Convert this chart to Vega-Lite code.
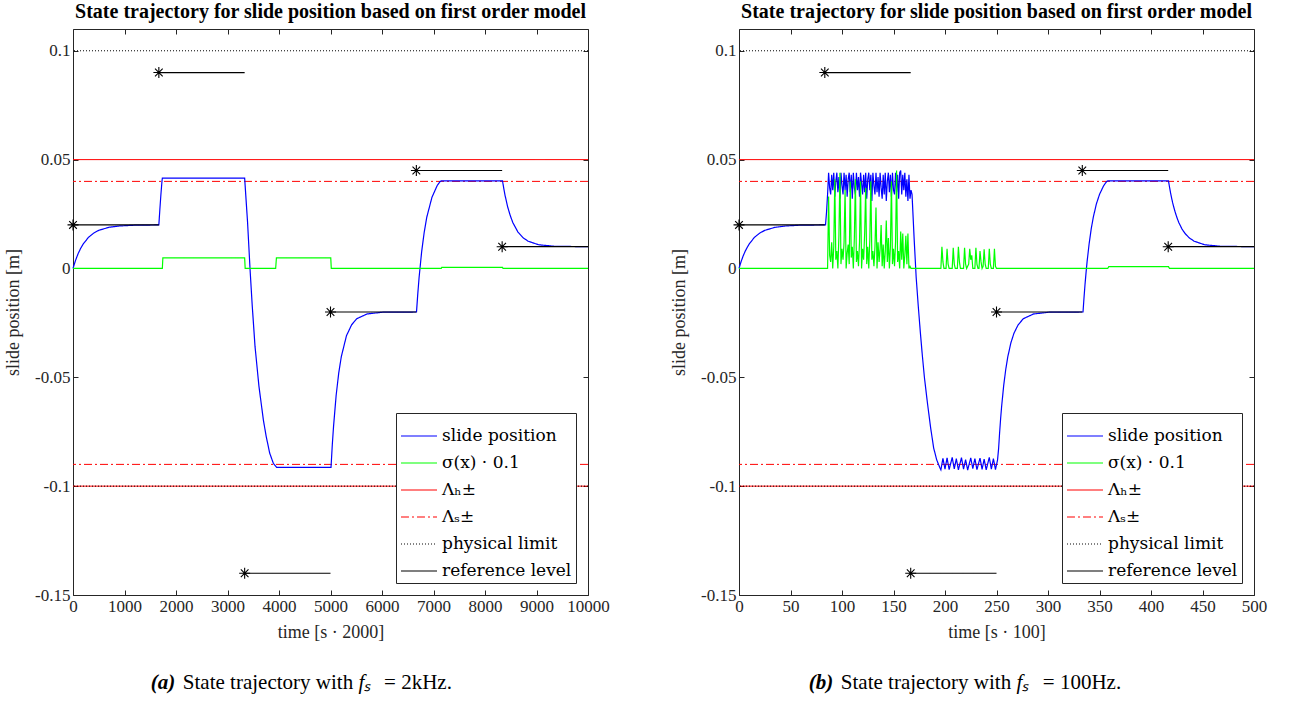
{
 "$schema": "https://vega.github.io/schema/vega-lite/v6.json",
 "padding": {"left": 4, "top": 1, "right": 5, "bottom": 5},
 "background": "white",
 "config": {
  "font": "Liberation Serif",
  "view": {"stroke": "#262626", "strokeWidth": 1},
  "axis": {"grid": false, "domain": false, "tickSize": -5, "tickColor": "#262626", "labelFont": "Liberation Serif", "labelFontSize": 17, "labelColor": "#262626", "titleFont": "Liberation Serif", "titleFontSize": 18, "titleFontWeight": "normal", "titleColor": "#262626", "labelPadding": 8, "labelFlush": false, "labelOverlap": false},
  "axisLeft": {"titlePadding": 12},
  "axisBottom": {"titlePadding": 9},
  "legend": {"orient": "bottom-right", "offset": 12, "title": null, "symbolType": "stroke", "symbolSize": 1300, "symbolStrokeWidth": 1.2, "labelFont": "DejaVu Serif", "labelFontSize": 17, "labelColor": "black", "strokeColor": "#262626", "fillColor": "white", "padding": 4, "rowPadding": 0, "labelOffset": 4, "cornerRadius": 0, "labelLimit": 300},
  "title": {"font": "Liberation Serif", "color": "black", "fontSize": 20, "fontWeight": "bold"}
 },
 "datasets": {
  "limits": [
   {"s": "Λₕ±", "y": 0.05}, {"s": "Λₕ±", "y": -0.1},
   {"s": "Λₛ±", "y": 0.04}, {"s": "Λₛ±", "y": -0.09},
   {"s": "physical limit", "y": 0.1}, {"s": "physical limit", "y": -0.1}
  ],
  "refA": [
   {"x0": 0, "x1": 1667, "y": 0.02, "s": "reference level"},
   {"x0": 1667, "x1": 3333, "y": 0.09, "s": "reference level"},
   {"x0": 3333, "x1": 5000, "y": -0.14, "s": "reference level"},
   {"x0": 5000, "x1": 6667, "y": -0.02, "s": "reference level"},
   {"x0": 6667, "x1": 8333, "y": 0.045, "s": "reference level"},
   {"x0": 8333, "x1": 10000, "y": 0.01, "s": "reference level"}
  ],
  "refB": [
   {"x0": 0, "x1": 83.3, "y": 0.02, "s": "reference level"},
   {"x0": 83.3, "x1": 166.7, "y": 0.09, "s": "reference level"},
   {"x0": 166.7, "x1": 250, "y": -0.14, "s": "reference level"},
   {"x0": 250, "x1": 333.3, "y": -0.02, "s": "reference level"},
   {"x0": 333.3, "x1": 416.7, "y": 0.045, "s": "reference level"},
   {"x0": 416.7, "x1": 500, "y": 0.01, "s": "reference level"}
  ],
  "trajA": [
   {"t": 0, "y": 0, "s": "slide position"}, {"t": 50, "y": 0.00376, "s": "slide position"}, {"t": 100, "y": 0.00682, "s": "slide position"}, {"t": 150, "y": 0.0093, "s": "slide position"}, {"t": 200, "y": 0.0113, "s": "slide position"}, {"t": 300, "y": 0.01427, "s": "slide position"}, {"t": 400, "y": 0.01622, "s": "slide position"}, {"t": 500, "y": 0.01751, "s": "slide position"}, {"t": 700, "y": 0.01892, "s": "slide position"}, {"t": 900, "y": 0.01953, "s": "slide position"}, {"t": 1200, "y": 0.01987, "s": "slide position"}, {"t": 1667, "y": 0.02, "s": "slide position"},
   {"t": 1687, "y": 0.0273, "s": "slide position"}, {"t": 1707, "y": 0.034, "s": "slide position"}, {"t": 1727, "y": 0.0399, "s": "slide position"}, {"t": 1735, "y": 0.0415, "s": "slide position"}, {"t": 3333, "y": 0.0415, "s": "slide position"},
   {"t": 3390, "y": 0.021, "s": "slide position"}, {"t": 3437, "y": 0, "s": "slide position"}, {"t": 3480, "y": -0.017, "s": "slide position"}, {"t": 3534, "y": -0.0357, "s": "slide position"}, {"t": 3610, "y": -0.054, "s": "slide position"}, {"t": 3696, "y": -0.0695, "s": "slide position"}, {"t": 3750, "y": -0.077, "s": "slide position"}, {"t": 3819, "y": -0.0848, "s": "slide position"}, {"t": 3890, "y": -0.0895, "s": "slide position"}, {"t": 3955, "y": -0.0914, "s": "slide position"}, {"t": 5010, "y": -0.0914, "s": "slide position"},
   {"t": 5035, "y": -0.081, "s": "slide position"}, {"t": 5060, "y": -0.0723, "s": "slide position"}, {"t": 5110, "y": -0.0582, "s": "slide position"}, {"t": 5160, "y": -0.048, "s": "slide position"}, {"t": 5210, "y": -0.0405, "s": "slide position"}, {"t": 5310, "y": -0.0309, "s": "slide position"}, {"t": 5410, "y": -0.0259, "s": "slide position"}, {"t": 5510, "y": -0.0231, "s": "slide position"}, {"t": 5710, "y": -0.0209, "s": "slide position"}, {"t": 6010, "y": -0.0201, "s": "slide position"}, {"t": 6670, "y": -0.02, "s": "slide position"},
   {"t": 6695, "y": -0.0116, "s": "slide position"}, {"t": 6720, "y": -0.0042, "s": "slide position"}, {"t": 6770, "y": 0.0077, "s": "slide position"}, {"t": 6820, "y": 0.0167, "s": "slide position"}, {"t": 6870, "y": 0.0236, "s": "slide position"}, {"t": 6970, "y": 0.0327, "s": "slide position"}, {"t": 7070, "y": 0.038, "s": "slide position"}, {"t": 7120, "y": 0.0397, "s": "slide position"}, {"t": 7150, "y": 0.0402, "s": "slide position"}, {"t": 8340, "y": 0.0402, "s": "slide position"},
   {"t": 8365, "y": 0.0367, "s": "slide position"}, {"t": 8390, "y": 0.0335, "s": "slide position"}, {"t": 8440, "y": 0.0283, "s": "slide position"}, {"t": 8490, "y": 0.0243, "s": "slide position"}, {"t": 8540, "y": 0.0211, "s": "slide position"}, {"t": 8640, "y": 0.0167, "s": "slide position"}, {"t": 8740, "y": 0.0141, "s": "slide position"}, {"t": 8840, "y": 0.0125, "s": "slide position"}, {"t": 9040, "y": 0.0109, "s": "slide position"}, {"t": 9340, "y": 0.0102, "s": "slide position"}, {"t": 10000, "y": 0.01, "s": "slide position"},
   {"t": 0, "y": 0, "s": "σ(x) · 0.1"}, {"t": 1735, "y": 0, "s": "σ(x) · 0.1"}, {"t": 1745, "y": 0.0049, "s": "σ(x) · 0.1"}, {"t": 3333, "y": 0.0049, "s": "σ(x) · 0.1"}, {"t": 3343, "y": 0, "s": "σ(x) · 0.1"}, {"t": 3935, "y": 0, "s": "σ(x) · 0.1"}, {"t": 3950, "y": 0.0049, "s": "σ(x) · 0.1"}, {"t": 5005, "y": 0.0049, "s": "σ(x) · 0.1"}, {"t": 5015, "y": 0, "s": "σ(x) · 0.1"}, {"t": 7150, "y": 0, "s": "σ(x) · 0.1"}, {"t": 7160, "y": 0.0005, "s": "σ(x) · 0.1"}, {"t": 8340, "y": 0.0005, "s": "σ(x) · 0.1"}, {"t": 8350, "y": 0, "s": "σ(x) · 0.1"}, {"t": 10000, "y": 0, "s": "σ(x) · 0.1"}
  ],
  "trajB": [
   {"t": 0, "y": 0, "s": "slide position"}, {"t": 2, "y": 0.0031, "s": "slide position"}, {"t": 4, "y": 0.0057, "s": "slide position"}, {"t": 6, "y": 0.0079, "s": "slide position"}, {"t": 8, "y": 0.0097, "s": "slide position"}, {"t": 10, "y": 0.0113, "s": "slide position"}, {"t": 15, "y": 0.0143, "s": "slide position"}, {"t": 20, "y": 0.0162, "s": "slide position"}, {"t": 25, "y": 0.0175, "s": "slide position"}, {"t": 35, "y": 0.0189, "s": "slide position"}, {"t": 45, "y": 0.0195, "s": "slide position"}, {"t": 60, "y": 0.0199, "s": "slide position"}, {"t": 84, "y": 0.02, "s": "slide position"}, {"t": 85, "y": 0.026, "s": "slide position"}, {"t": 86, "y": 0.034, "s": "slide position"},
   {"t": 87, "y": 0.044, "s": "slide position"}, {"t": 88, "y": 0.037, "s": "slide position"}, {"t": 89, "y": 0.034, "s": "slide position"}, {"t": 90, "y": 0.043, "s": "slide position"}, {"t": 91, "y": 0.036, "s": "slide position"}, {"t": 92, "y": 0.044, "s": "slide position"}, {"t": 93, "y": 0.033, "s": "slide position"}, {"t": 94, "y": 0.040, "s": "slide position"}, {"t": 95, "y": 0.044, "s": "slide position"}, {"t": 96, "y": 0.035, "s": "slide position"}, {"t": 97, "y": 0.042, "s": "slide position"}, {"t": 98, "y": 0.032, "s": "slide position"}, {"t": 99, "y": 0.044, "s": "slide position"}, {"t": 100, "y": 0.038, "s": "slide position"}, {"t": 101, "y": 0.034, "s": "slide position"}, {"t": 102, "y": 0.044, "s": "slide position"}, {"t": 103, "y": 0.036, "s": "slide position"}, {"t": 104, "y": 0.043, "s": "slide position"}, {"t": 105, "y": 0.033, "s": "slide position"}, {"t": 106, "y": 0.041, "s": "slide position"}, {"t": 107, "y": 0.044, "s": "slide position"}, {"t": 108, "y": 0.035, "s": "slide position"}, {"t": 109, "y": 0.043, "s": "slide position"}, {"t": 110, "y": 0.032, "s": "slide position"}, {"t": 111, "y": 0.044, "s": "slide position"}, {"t": 112, "y": 0.037, "s": "slide position"}, {"t": 113, "y": 0.034, "s": "slide position"}, {"t": 114, "y": 0.044, "s": "slide position"}, {"t": 115, "y": 0.036, "s": "slide position"}, {"t": 116, "y": 0.042, "s": "slide position"}, {"t": 117, "y": 0.033, "s": "slide position"}, {"t": 118, "y": 0.044, "s": "slide position"}, {"t": 119, "y": 0.039, "s": "slide position"}, {"t": 120, "y": 0.034, "s": "slide position"}, {"t": 121, "y": 0.043, "s": "slide position"}, {"t": 122, "y": 0.035, "s": "slide position"}, {"t": 123, "y": 0.044, "s": "slide position"}, {"t": 124, "y": 0.032, "s": "slide position"}, {"t": 125, "y": 0.041, "s": "slide position"}, {"t": 126, "y": 0.044, "s": "slide position"}, {"t": 127, "y": 0.036, "s": "slide position"}, {"t": 128, "y": 0.043, "s": "slide position"}, {"t": 129, "y": 0.031, "s": "slide position"}, {"t": 130, "y": 0.044, "s": "slide position"}, {"t": 131, "y": 0.038, "s": "slide position"}, {"t": 132, "y": 0.034, "s": "slide position"}, {"t": 133, "y": 0.044, "s": "slide position"}, {"t": 134, "y": 0.035, "s": "slide position"}, {"t": 135, "y": 0.042, "s": "slide position"}, {"t": 136, "y": 0.033, "s": "slide position"}, {"t": 137, "y": 0.044, "s": "slide position"}, {"t": 138, "y": 0.037, "s": "slide position"}, {"t": 139, "y": 0.032, "s": "slide position"}, {"t": 140, "y": 0.043, "s": "slide position"}, {"t": 141, "y": 0.034, "s": "slide position"}, {"t": 142, "y": 0.044, "s": "slide position"}, {"t": 143, "y": 0.031, "s": "slide position"}, {"t": 144, "y": 0.040, "s": "slide position"}, {"t": 145, "y": 0.044, "s": "slide position"}, {"t": 146, "y": 0.035, "s": "slide position"}, {"t": 147, "y": 0.043, "s": "slide position"}, {"t": 148, "y": 0.033, "s": "slide position"}, {"t": 149, "y": 0.044, "s": "slide position"}, {"t": 150, "y": 0.036, "s": "slide position"}, {"t": 151, "y": 0.034, "s": "slide position"}, {"t": 152, "y": 0.044, "s": "slide position"}, {"t": 153, "y": 0.035, "s": "slide position"}, {"t": 154, "y": 0.043, "s": "slide position"}, {"t": 155, "y": 0.032, "s": "slide position"}, {"t": 156, "y": 0.044, "s": "slide position"}, {"t": 157, "y": 0.045, "s": "slide position"}, {"t": 158, "y": 0.034, "s": "slide position"}, {"t": 159, "y": 0.043, "s": "slide position"}, {"t": 160, "y": 0.036, "s": "slide position"}, {"t": 161, "y": 0.044, "s": "slide position"}, {"t": 162, "y": 0.033, "s": "slide position"}, {"t": 163, "y": 0.041, "s": "slide position"}, {"t": 164, "y": 0.031, "s": "slide position"}, {"t": 165, "y": 0.043, "s": "slide position"}, {"t": 166, "y": 0.032, "s": "slide position"}, {"t": 167, "y": 0.036, "s": "slide position"},
   {"t": 168, "y": 0.034, "s": "slide position"}, {"t": 170, "y": 0.014, "s": "slide position"}, {"t": 172, "y": -0.004, "s": "slide position"}, {"t": 174, "y": -0.017, "s": "slide position"}, {"t": 176, "y": -0.029, "s": "slide position"}, {"t": 178, "y": -0.04, "s": "slide position"}, {"t": 180, "y": -0.05, "s": "slide position"}, {"t": 183, "y": -0.062, "s": "slide position"}, {"t": 186, "y": -0.073, "s": "slide position"}, {"t": 189, "y": -0.0825, "s": "slide position"}, {"t": 192, "y": -0.088, "s": "slide position"}, {"t": 195, "y": -0.0915, "s": "slide position"},
   {"t": 196, "y": -0.0925, "s": "slide position"}, {"t": 198, "y": -0.0872, "s": "slide position"}, {"t": 200, "y": -0.0922, "s": "slide position"}, {"t": 202, "y": -0.087, "s": "slide position"}, {"t": 204, "y": -0.0924, "s": "slide position"}, {"t": 207, "y": -0.0868, "s": "slide position"}, {"t": 209, "y": -0.0921, "s": "slide position"}, {"t": 211, "y": -0.0874, "s": "slide position"}, {"t": 213, "y": -0.0925, "s": "slide position"}, {"t": 216, "y": -0.0869, "s": "slide position"}, {"t": 218, "y": -0.0922, "s": "slide position"}, {"t": 220, "y": -0.0878, "s": "slide position"}, {"t": 222, "y": -0.0926, "s": "slide position"}, {"t": 225, "y": -0.087, "s": "slide position"}, {"t": 227, "y": -0.092, "s": "slide position"}, {"t": 229, "y": -0.0873, "s": "slide position"}, {"t": 231, "y": -0.0924, "s": "slide position"}, {"t": 234, "y": -0.0871, "s": "slide position"}, {"t": 236, "y": -0.0923, "s": "slide position"}, {"t": 238, "y": -0.0876, "s": "slide position"}, {"t": 240, "y": -0.0925, "s": "slide position"}, {"t": 243, "y": -0.0868, "s": "slide position"}, {"t": 245, "y": -0.0922, "s": "slide position"}, {"t": 247, "y": -0.0874, "s": "slide position"}, {"t": 249, "y": -0.0924, "s": "slide position"}, {"t": 251, "y": -0.088, "s": "slide position"},
   {"t": 252, "y": -0.083, "s": "slide position"}, {"t": 253, "y": -0.0756, "s": "slide position"}, {"t": 254, "y": -0.069, "s": "slide position"}, {"t": 255, "y": -0.0633, "s": "slide position"}, {"t": 257, "y": -0.0537, "s": "slide position"}, {"t": 259, "y": -0.0463, "s": "slide position"}, {"t": 261, "y": -0.0405, "s": "slide position"}, {"t": 264, "y": -0.0341, "s": "slide position"}, {"t": 267, "y": -0.0297, "s": "slide position"}, {"t": 271, "y": -0.0259, "s": "slide position"}, {"t": 276, "y": -0.0231, "s": "slide position"}, {"t": 286, "y": -0.0209, "s": "slide position"}, {"t": 301, "y": -0.0201, "s": "slide position"}, {"t": 334, "y": -0.02, "s": "slide position"},
   {"t": 335, "y": -0.0132, "s": "slide position"}, {"t": 336, "y": -0.007, "s": "slide position"}, {"t": 337, "y": -0.0016, "s": "slide position"}, {"t": 338, "y": 0.0033, "s": "slide position"}, {"t": 340, "y": 0.0116, "s": "slide position"}, {"t": 342, "y": 0.0183, "s": "slide position"}, {"t": 344, "y": 0.0236, "s": "slide position"}, {"t": 347, "y": 0.0297, "s": "slide position"}, {"t": 350, "y": 0.034, "s": "slide position"}, {"t": 354, "y": 0.038, "s": "slide position"}, {"t": 357, "y": 0.04, "s": "slide position"}, {"t": 358, "y": 0.0402, "s": "slide position"}, {"t": 417, "y": 0.0402, "s": "slide position"},
   {"t": 418, "y": 0.0373, "s": "slide position"}, {"t": 419, "y": 0.0347, "s": "slide position"}, {"t": 420, "y": 0.0324, "s": "slide position"}, {"t": 421, "y": 0.0302, "s": "slide position"}, {"t": 423, "y": 0.0266, "s": "slide position"}, {"t": 425, "y": 0.0236, "s": "slide position"}, {"t": 427, "y": 0.0211, "s": "slide position"}, {"t": 430, "y": 0.0182, "s": "slide position"}, {"t": 433, "y": 0.0161, "s": "slide position"}, {"t": 437, "y": 0.0141, "s": "slide position"}, {"t": 442, "y": 0.0125, "s": "slide position"}, {"t": 452, "y": 0.0109, "s": "slide position"}, {"t": 467, "y": 0.0102, "s": "slide position"}, {"t": 500, "y": 0.01, "s": "slide position"},
   {"t": 0, "y": 0, "s": "σ(x) · 0.1"}, {"t": 86, "y": 0, "s": "σ(x) · 0.1"}, {"t": 87, "y": 0.033, "s": "σ(x) · 0.1"}, {"t": 88, "y": 0.006, "s": "σ(x) · 0.1"}, {"t": 89, "y": 0.003, "s": "σ(x) · 0.1"}, {"t": 90, "y": 0.012, "s": "σ(x) · 0.1"}, {"t": 91, "y": 0, "s": "σ(x) · 0.1"}, {"t": 92, "y": 0.01, "s": "σ(x) · 0.1"}, {"t": 93, "y": 0.041, "s": "σ(x) · 0.1"}, {"t": 94, "y": 0.004, "s": "σ(x) · 0.1"}, {"t": 95, "y": 0.008, "s": "σ(x) · 0.1"}, {"t": 96, "y": 0, "s": "σ(x) · 0.1"}, {"t": 97, "y": 0.015, "s": "σ(x) · 0.1"}, {"t": 98, "y": 0.044, "s": "σ(x) · 0.1"}, {"t": 99, "y": 0.002, "s": "σ(x) · 0.1"}, {"t": 100, "y": 0.009, "s": "σ(x) · 0.1"}, {"t": 101, "y": 0.004, "s": "σ(x) · 0.1"}, {"t": 102, "y": 0.012, "s": "σ(x) · 0.1"}, {"t": 103, "y": 0.036, "s": "σ(x) · 0.1"}, {"t": 104, "y": 0, "s": "σ(x) · 0.1"}, {"t": 105, "y": 0.007, "s": "σ(x) · 0.1"}, {"t": 106, "y": 0.011, "s": "σ(x) · 0.1"}, {"t": 107, "y": 0.002, "s": "σ(x) · 0.1"}, {"t": 108, "y": 0.04, "s": "σ(x) · 0.1"}, {"t": 109, "y": 0.005, "s": "σ(x) · 0.1"}, {"t": 110, "y": 0.01, "s": "σ(x) · 0.1"}, {"t": 111, "y": 0, "s": "σ(x) · 0.1"}, {"t": 112, "y": 0.014, "s": "σ(x) · 0.1"}, {"t": 113, "y": 0.041, "s": "σ(x) · 0.1"}, {"t": 114, "y": 0.003, "s": "σ(x) · 0.1"}, {"t": 115, "y": 0.008, "s": "σ(x) · 0.1"}, {"t": 116, "y": 0.001, "s": "σ(x) · 0.1"}, {"t": 117, "y": 0.012, "s": "σ(x) · 0.1"}, {"t": 118, "y": 0.04, "s": "σ(x) · 0.1"}, {"t": 119, "y": 0, "s": "σ(x) · 0.1"}, {"t": 120, "y": 0.009, "s": "σ(x) · 0.1"}, {"t": 121, "y": 0.004, "s": "σ(x) · 0.1"}, {"t": 122, "y": 0.016, "s": "σ(x) · 0.1"}, {"t": 123, "y": 0.037, "s": "σ(x) · 0.1"}, {"t": 124, "y": 0.002, "s": "σ(x) · 0.1"}, {"t": 125, "y": 0.01, "s": "σ(x) · 0.1"}, {"t": 126, "y": 0, "s": "σ(x) · 0.1"}, {"t": 127, "y": 0.013, "s": "σ(x) · 0.1"}, {"t": 128, "y": 0.04, "s": "σ(x) · 0.1"}, {"t": 129, "y": 0.004, "s": "σ(x) · 0.1"}, {"t": 130, "y": 0.008, "s": "σ(x) · 0.1"}, {"t": 131, "y": 0.001, "s": "σ(x) · 0.1"}, {"t": 132, "y": 0.01, "s": "σ(x) · 0.1"}, {"t": 133, "y": 0.028, "s": "σ(x) · 0.1"}, {"t": 134, "y": 0, "s": "σ(x) · 0.1"}, {"t": 135, "y": 0.012, "s": "σ(x) · 0.1"}, {"t": 136, "y": 0.003, "s": "σ(x) · 0.1"}, {"t": 137, "y": 0.009, "s": "σ(x) · 0.1"}, {"t": 138, "y": 0.02, "s": "σ(x) · 0.1"}, {"t": 139, "y": 0.001, "s": "σ(x) · 0.1"}, {"t": 140, "y": 0.011, "s": "σ(x) · 0.1"}, {"t": 141, "y": 0, "s": "σ(x) · 0.1"}, {"t": 142, "y": 0.008, "s": "σ(x) · 0.1"}, {"t": 143, "y": 0.022, "s": "σ(x) · 0.1"}, {"t": 144, "y": 0.003, "s": "σ(x) · 0.1"}, {"t": 145, "y": 0.014, "s": "σ(x) · 0.1"}, {"t": 146, "y": 0, "s": "σ(x) · 0.1"}, {"t": 147, "y": 0.01, "s": "σ(x) · 0.1"}, {"t": 148, "y": 0.04, "s": "σ(x) · 0.1"}, {"t": 149, "y": 0.002, "s": "σ(x) · 0.1"}, {"t": 150, "y": 0.009, "s": "σ(x) · 0.1"}, {"t": 151, "y": 0.001, "s": "σ(x) · 0.1"}, {"t": 152, "y": 0.012, "s": "σ(x) · 0.1"}, {"t": 153, "y": 0.045, "s": "σ(x) · 0.1"}, {"t": 154, "y": 0.003, "s": "σ(x) · 0.1"}, {"t": 155, "y": 0.008, "s": "σ(x) · 0.1"}, {"t": 156, "y": 0, "s": "σ(x) · 0.1"}, {"t": 157, "y": 0.017, "s": "σ(x) · 0.1"}, {"t": 158, "y": 0.004, "s": "σ(x) · 0.1"}, {"t": 159, "y": 0.016, "s": "σ(x) · 0.1"}, {"t": 160, "y": 0, "s": "σ(x) · 0.1"}, {"t": 161, "y": 0.006, "s": "σ(x) · 0.1"}, {"t": 162, "y": 0.015, "s": "σ(x) · 0.1"}, {"t": 163, "y": 0.002, "s": "σ(x) · 0.1"}, {"t": 164, "y": 0.016, "s": "σ(x) · 0.1"}, {"t": 165, "y": 0, "s": "σ(x) · 0.1"}, {"t": 166, "y": 0.001, "s": "σ(x) · 0.1"}, {"t": 167, "y": 0, "s": "σ(x) · 0.1"},
   {"t": 196, "y": 0, "s": "σ(x) · 0.1"}, {"t": 197, "y": 0.01, "s": "σ(x) · 0.1"}, {"t": 198, "y": 0.003, "s": "σ(x) · 0.1"}, {"t": 199, "y": 0, "s": "σ(x) · 0.1"}, {"t": 201, "y": 0, "s": "σ(x) · 0.1"}, {"t": 202, "y": 0.009, "s": "σ(x) · 0.1"}, {"t": 203, "y": 0.002, "s": "σ(x) · 0.1"}, {"t": 204, "y": 0, "s": "σ(x) · 0.1"}, {"t": 207, "y": 0, "s": "σ(x) · 0.1"}, {"t": 208, "y": 0.0095, "s": "σ(x) · 0.1"}, {"t": 209, "y": 0.002, "s": "σ(x) · 0.1"}, {"t": 210, "y": 0, "s": "σ(x) · 0.1"}, {"t": 212, "y": 0, "s": "σ(x) · 0.1"}, {"t": 213, "y": 0.01, "s": "σ(x) · 0.1"}, {"t": 214, "y": 0.003, "s": "σ(x) · 0.1"}, {"t": 215, "y": 0, "s": "σ(x) · 0.1"}, {"t": 218, "y": 0, "s": "σ(x) · 0.1"}, {"t": 219, "y": 0.0095, "s": "σ(x) · 0.1"}, {"t": 220, "y": 0.002, "s": "σ(x) · 0.1"}, {"t": 221, "y": 0, "s": "σ(x) · 0.1"}, {"t": 223, "y": 0.002, "s": "σ(x) · 0.1"}, {"t": 224, "y": 0.009, "s": "σ(x) · 0.1"}, {"t": 225, "y": 0.004, "s": "σ(x) · 0.1"}, {"t": 226, "y": 0.006, "s": "σ(x) · 0.1"}, {"t": 227, "y": 0, "s": "σ(x) · 0.1"}, {"t": 229, "y": 0, "s": "σ(x) · 0.1"}, {"t": 230, "y": 0.0095, "s": "σ(x) · 0.1"}, {"t": 231, "y": 0.002, "s": "σ(x) · 0.1"}, {"t": 232, "y": 0, "s": "σ(x) · 0.1"}, {"t": 233, "y": 0, "s": "σ(x) · 0.1"}, {"t": 234, "y": 0.008, "s": "σ(x) · 0.1"}, {"t": 235, "y": 0.003, "s": "σ(x) · 0.1"}, {"t": 236, "y": 0, "s": "σ(x) · 0.1"}, {"t": 237, "y": 0.001, "s": "σ(x) · 0.1"}, {"t": 238, "y": 0.0088, "s": "σ(x) · 0.1"}, {"t": 239, "y": 0.002, "s": "σ(x) · 0.1"}, {"t": 240, "y": 0, "s": "σ(x) · 0.1"}, {"t": 242, "y": 0, "s": "σ(x) · 0.1"}, {"t": 243, "y": 0.009, "s": "σ(x) · 0.1"}, {"t": 244, "y": 0.002, "s": "σ(x) · 0.1"}, {"t": 245, "y": 0, "s": "σ(x) · 0.1"}, {"t": 247, "y": 0, "s": "σ(x) · 0.1"}, {"t": 248, "y": 0.009, "s": "σ(x) · 0.1"}, {"t": 249, "y": 0.001, "s": "σ(x) · 0.1"}, {"t": 250, "y": 0, "s": "σ(x) · 0.1"}, {"t": 358, "y": 0, "s": "σ(x) · 0.1"}, {"t": 359, "y": 0.0008, "s": "σ(x) · 0.1"}, {"t": 417, "y": 0.0008, "s": "σ(x) · 0.1"}, {"t": 418, "y": 0, "s": "σ(x) · 0.1"}, {"t": 500, "y": 0, "s": "σ(x) · 0.1"}
  ]
 },
 "spacing": 60,
 "resolve": {"scale": {"color": "independent", "strokeDash": "independent"}},
 "hconcat": [
  {
   "resolve": {"scale": {"color": "independent", "strokeDash": "independent"}},
   "title": {"text": "(a)", "orient": "bottom", "anchor": "middle", "frame": "group", "fontSize": 21, "fontStyle": "italic", "fontWeight": "bold", "offset": 0, "dy": -21, "dx": 90},
   "vconcat": [{
    "resolve": {"scale": {"color": "independent", "strokeDash": "independent"}},
    "title": {"text": "State trajectory with", "orient": "bottom", "anchor": "middle", "frame": "group", "fontSize": 21, "fontWeight": "normal", "offset": 0, "dy": -21, "dx": 195},
    "vconcat": [{
     "resolve": {"scale": {"color": "independent", "strokeDash": "independent"}},
     "title": {"text": "fₛ", "orient": "bottom", "anchor": "middle", "frame": "group", "fontSize": 21, "fontStyle": "italic", "fontWeight": "normal", "offset": 0, "dy": -21, "dx": 292},
     "vconcat": [{
      "resolve": {"scale": {"color": "independent", "strokeDash": "independent"}},
      "title": {"text": "= 2kHz.", "orient": "bottom", "anchor": "middle", "frame": "group", "fontSize": 21, "fontWeight": "normal", "offset": 30, "dx": 345},
      "vconcat": [{
       "width": 515, "height": 566,
       "title": {"text": "State trajectory for slide position based on first order model", "frame": "group", "anchor": "middle", "offset": 7},
       "resolve": {"axis": {"x": "independent", "y": "independent"}},
       "layer": [
        {"data": {"name": "limits"}, "mark": {"type": "rule", "strokeWidth": 1},
         "encoding": {
          "y": {"field": "y", "type": "quantitative", "scale": {"domain": [-0.15, 0.11], "nice": false, "zero": false}, "axis": null},
          "color": {"field": "s", "type": "nominal", "scale": {"domain": ["slide position", "σ(x) · 0.1", "Λₕ±", "Λₛ±", "physical limit", "reference level"], "range": ["#0000ff", "#00ff00", "#ff0000", "#ff0000", "#000000", "#000000"]}},
          "strokeDash": {"field": "s", "type": "nominal", "scale": {"domain": ["slide position", "σ(x) · 0.1", "Λₕ±", "Λₛ±", "physical limit", "reference level"], "range": [[1, 0], [1, 0], [1, 0], [8, 3, 2, 3], [1, 2], [1, 0]]}}
         }},
        {"data": {"name": "trajA"}, "mark": {"type": "line", "strokeWidth": 1.2},
         "encoding": {
          "x": {"field": "t", "type": "quantitative", "scale": {"domain": [0, 10000], "nice": false, "zero": false}, "axis": {"orient": "bottom", "title": "time [s · 2000]", "values": [0, 1000, 2000, 3000, 4000, 5000, 6000, 7000, 8000, 9000, 10000], "format": "d"}},
          "y": {"field": "y", "type": "quantitative", "scale": {"domain": [-0.15, 0.11], "nice": false, "zero": false}, "axis": {"orient": "left", "title": "slide position [m]", "values": [-0.15, -0.1, -0.05, 0, 0.05, 0.1], "labelExpr": "toString(datum.value)"}},
          "color": {"field": "s", "type": "nominal"},
          "strokeDash": {"field": "s", "type": "nominal"}
         }},
        {"data": {"name": "refA"}, "mark": {"type": "rule", "strokeWidth": 1.2},
         "encoding": {
          "x": {"field": "x0", "type": "quantitative", "axis": {"orient": "top", "labels": false, "title": null, "values": [0, 1000, 2000, 3000, 4000, 5000, 6000, 7000, 8000, 9000, 10000]}},
          "x2": {"field": "x1"},
          "y": {"field": "y", "type": "quantitative", "axis": {"orient": "right", "labels": false, "title": null, "values": [-0.15, -0.1, -0.05, 0, 0.05, 0.1]}},
          "color": {"field": "s", "type": "nominal"},
          "strokeDash": {"field": "s", "type": "nominal"}
         }},
        {"data": {"name": "refA"}, "mark": {"type": "point", "shape": "M0,-1L0,1M-1,0L1,0M-0.7,-0.7L0.7,0.7M-0.7,0.7L0.7,-0.7", "size": 120, "color": "black", "filled": false, "strokeWidth": 1.1, "opacity": 1},
         "encoding": {
          "x": {"field": "x0", "type": "quantitative", "axis": null},
          "y": {"field": "y", "type": "quantitative", "axis": null}
         }}
       ]
      }]
     }]
    }]
   }]
  },
  {
   "resolve": {"scale": {"color": "independent", "strokeDash": "independent"}},
   "title": {"text": "(b)", "orient": "bottom", "anchor": "middle", "frame": "group", "fontSize": 21, "fontStyle": "italic", "fontWeight": "bold", "offset": 0, "dy": -21, "dx": 82},
   "vconcat": [{
    "resolve": {"scale": {"color": "independent", "strokeDash": "independent"}},
    "title": {"text": "State trajectory with", "orient": "bottom", "anchor": "middle", "frame": "group", "fontSize": 21, "fontWeight": "normal", "offset": 0, "dy": -21, "dx": 187},
    "vconcat": [{
     "resolve": {"scale": {"color": "independent", "strokeDash": "independent"}},
     "title": {"text": "fₛ", "orient": "bottom", "anchor": "middle", "frame": "group", "fontSize": 21, "fontStyle": "italic", "fontWeight": "normal", "offset": 0, "dy": -21, "dx": 284},
     "vconcat": [{
      "resolve": {"scale": {"color": "independent", "strokeDash": "independent"}},
      "title": {"text": "= 100Hz.", "orient": "bottom", "anchor": "middle", "frame": "group", "fontSize": 21, "fontWeight": "normal", "offset": 30, "dx": 343},
      "vconcat": [{
       "width": 515, "height": 566,
       "title": {"text": "State trajectory for slide position based on first order model", "frame": "group", "anchor": "middle", "offset": 7},
       "resolve": {"axis": {"x": "independent", "y": "independent"}},
       "layer": [
        {"data": {"name": "limits"}, "mark": {"type": "rule", "strokeWidth": 1},
         "encoding": {
          "y": {"field": "y", "type": "quantitative", "scale": {"domain": [-0.15, 0.11], "nice": false, "zero": false}, "axis": null},
          "color": {"field": "s", "type": "nominal", "scale": {"domain": ["slide position", "σ(x) · 0.1", "Λₕ±", "Λₛ±", "physical limit", "reference level"], "range": ["#0000ff", "#00ff00", "#ff0000", "#ff0000", "#000000", "#000000"]}},
          "strokeDash": {"field": "s", "type": "nominal", "scale": {"domain": ["slide position", "σ(x) · 0.1", "Λₕ±", "Λₛ±", "physical limit", "reference level"], "range": [[1, 0], [1, 0], [1, 0], [8, 3, 2, 3], [1, 2], [1, 0]]}}
         }},
        {"data": {"name": "trajB"}, "mark": {"type": "line", "strokeWidth": 1.2},
         "encoding": {
          "x": {"field": "t", "type": "quantitative", "scale": {"domain": [0, 500], "nice": false, "zero": false}, "axis": {"orient": "bottom", "title": "time [s · 100]", "values": [0, 50, 100, 150, 200, 250, 300, 350, 400, 450, 500], "format": "d"}},
          "y": {"field": "y", "type": "quantitative", "scale": {"domain": [-0.15, 0.11], "nice": false, "zero": false}, "axis": {"orient": "left", "title": "slide position [m]", "values": [-0.15, -0.1, -0.05, 0, 0.05, 0.1], "labelExpr": "toString(datum.value)"}},
          "color": {"field": "s", "type": "nominal"},
          "strokeDash": {"field": "s", "type": "nominal"}
         }},
        {"data": {"name": "refB"}, "mark": {"type": "rule", "strokeWidth": 1.2},
         "encoding": {
          "x": {"field": "x0", "type": "quantitative", "axis": {"orient": "top", "labels": false, "title": null, "values": [0, 50, 100, 150, 200, 250, 300, 350, 400, 450, 500]}},
          "x2": {"field": "x1"},
          "y": {"field": "y", "type": "quantitative", "axis": {"orient": "right", "labels": false, "title": null, "values": [-0.15, -0.1, -0.05, 0, 0.05, 0.1]}},
          "color": {"field": "s", "type": "nominal"},
          "strokeDash": {"field": "s", "type": "nominal"}
         }},
        {"data": {"name": "refB"}, "mark": {"type": "point", "shape": "M0,-1L0,1M-1,0L1,0M-0.7,-0.7L0.7,0.7M-0.7,0.7L0.7,-0.7", "size": 120, "color": "black", "filled": false, "strokeWidth": 1.1, "opacity": 1},
         "encoding": {
          "x": {"field": "x0", "type": "quantitative", "axis": null},
          "y": {"field": "y", "type": "quantitative", "axis": null}
         }}
       ]
      }]
     }]
    }]
   }]
  }
 ]
}
